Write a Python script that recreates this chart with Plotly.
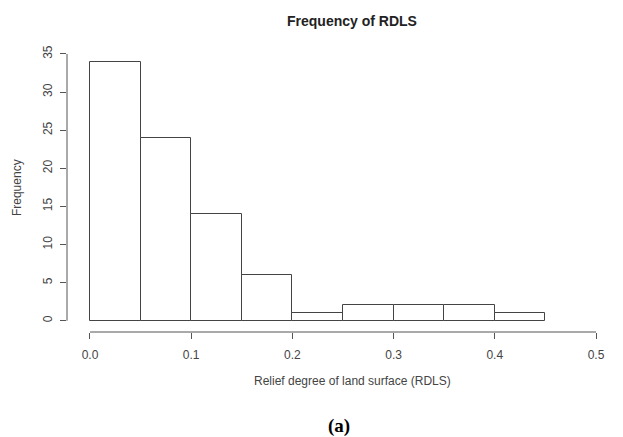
import plotly.graph_objects as go

# Data
bin_edges = [0.0, 0.05, 0.10, 0.15, 0.20, 0.25, 0.30, 0.35, 0.40, 0.45]
counts = [34, 24, 14, 6, 1, 2, 2, 2, 1]
x_ticks = [0.0, 0.1, 0.2, 0.3, 0.4, 0.5]
x_tick_labels = ["0.0", "0.1", "0.2", "0.3", "0.4", "0.5"]
y_ticks = [0, 5, 10, 15, 20, 25, 30, 35]

centers = [(a + b) / 2 for a, b in zip(bin_edges[:-1], bin_edges[1:])]
widths = [b - a for a, b in zip(bin_edges[:-1], bin_edges[1:])]

AX = "#555555"
TXT = "#444444"
FONT = "Liberation Sans, Arial, sans-serif"

fig = go.Figure()
fig.add_trace(go.Bar(
    x=centers, y=counts, width=widths,
    marker=dict(color="white", line=dict(color="#444444", width=1)),
    showlegend=False, hoverinfo="x+y",
))

# R-style axis lines that span only the tick range
fig.add_shape(type="line", xref="paper", yref="y", x0=0, x1=0,
              y0=y_ticks[0], y1=y_ticks[-1], line=dict(color=AX, width=1))
fig.add_shape(type="line", xref="x", yref="paper", x0=x_ticks[0], x1=x_ticks[-1],
              y0=0, y1=0, line=dict(color=AX, width=1))

# page body has an 8px default margin, so the figure is offset by 8px
fig.update_layout(
    width=615, height=429,
    margin=dict(l=59, r=10, t=37, b=105),
    paper_bgcolor="white", plot_bgcolor="white",
    bargap=0,
    font=dict(family=FONT, size=12, color=TXT),
    xaxis=dict(range=[-0.0227, 0.5168], tickvals=x_ticks, ticktext=x_tick_labels,
               showgrid=False, zeroline=False, showline=False,
               ticks="outside", ticklen=6, tickcolor=AX, tickwidth=1,
               ticklabelstandoff=6, tickfont=dict(size=12, color=TXT)),
    yaxis=dict(range=[-1.483, 36.18], tickvals=y_ticks,
               showgrid=False, zeroline=False, showline=False,
               ticks="outside", ticklen=6, tickcolor=AX, tickwidth=1,
               tickangle=-90, ticklabelstandoff=3, tickfont=dict(size=12, color=TXT)),
    annotations=[
        dict(text="<b>Frequency of RDLS</b>", xref="paper", yref="paper",
             x=0.522, y=1.0836, showarrow=False, xanchor="center", yanchor="middle",
             font=dict(size=14, color="#222222", family=FONT)),
        dict(text="Relief degree of land surface (RDLS)", xref="paper", yref="paper",
             x=0.522, y=-0.172, showarrow=False, xanchor="center", yanchor="middle",
             font=dict(size=12, color=TXT, family=FONT)),
        dict(text="Frequency", xref="paper", yref="paper",
             x=-0.0916, y=0.505, showarrow=False, textangle=-90,
             xanchor="center", yanchor="middle",
             font=dict(size=12, color=TXT, family=FONT)),
        dict(text="<b>(a)</b>", xref="paper", yref="paper",
             x=0.498, y=-0.3275, showarrow=False, xanchor="center", yanchor="middle",
             font=dict(size=19, color="black", family="Liberation Serif, DejaVu Serif, serif")),
    ],
)

fig.write_html("out.html")
